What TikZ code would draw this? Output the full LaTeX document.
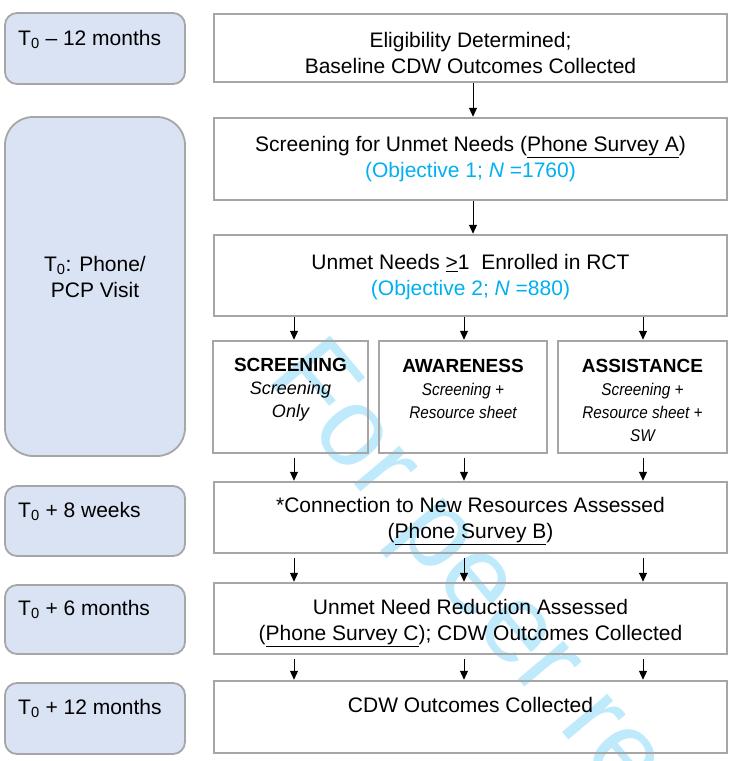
\documentclass[tikz,border=0pt]{standalone}
\usepackage{fontspec}
\setmainfont{Liberation Sans}
\newfontfamily\narrowsans[FakeStretch=0.9]{Liberation Sans}
\usetikzlibrary{arrows.meta}
\definecolor{boxgray}{RGB}{166,166,166}
\definecolor{tlfill}{RGB}{218,227,243}
\definecolor{objblue}{RGB}{0,176,240}
\definecolor{wmcol}{RGB}{190,234,251}

\begin{document}
\begin{tikzpicture}[x=1pt,y=-1pt,
  stagebox/.style={draw=boxgray, line width=2.5pt, minimum width=513pt, inner sep=0pt},
  stagetext/.style={align=center, inner sep=0pt, font=\fontsize{21}{26}\selectfont},
  armbox/.style={draw=boxgray, line width=2.5pt, inner sep=0pt, minimum height=112pt},
  armtext/.style={align=center, inner sep=0pt, font=\fontsize{17}{23}\selectfont\itshape},
  timebox/.style={draw=boxgray, line width=1.8pt, fill=tlfill, rounded corners=12pt,
    minimum width=180pt, inner sep=0pt},
  timetext/.style={anchor=west, inner sep=0pt, font=\fontsize{21}{26}\selectfont},
  flow/.style={-{Triangle[length=9pt,width=8pt]}, line width=1pt, black},
  lowflow/.style={flow, shorten <=3.5pt},
]
\useasboundingbox (0,0) rectangle (736,761);
\clip (0,0) rectangle (736,761);

% watermark, behind the flow chart
\node[rotate=-50, anchor=base west, inner sep=0pt, text=wmcol,
  font=\fontsize{112}{112}\selectfont] (wmark) at (265,378) {For peer review};

% time line on the left
\node[timebox, minimum height=71pt] (t1) at (95,48.5) {};
\node[timebox, minimum height=339pt, rounded corners=28pt] (t2) at (95,286.5) {};
\node[timebox, minimum height=70pt] (t3) at (95,521) {};
\node[timebox, minimum height=69pt] (t4) at (95,619.5) {};
\node[timebox, minimum height=71pt] (t5) at (95,718.5) {};

\node[timetext] (t1txt) at (18,39.5) {T\textsubscript{0} – 12 months};
\node[timetext, anchor=center, align=center] (t2txt) at (95,277) {T\textsubscript{0}: Phone/\\PCP Visit};
\node[timetext] (t3txt) at (18,511.5) {T\textsubscript{0} + 8 weeks};
\node[timetext] (t4txt) at (18,609.5) {T\textsubscript{0} + 6 months};
\node[timetext] (t5txt) at (18,708.5) {T\textsubscript{0} + 12 months};

% study stages
\node[stagebox, minimum height=68pt] (elig) at (470.5,48) {};
\node[stagetext] (eligtxt) at (470.5,53)
  {Eligibility Determined;\\Baseline CDW Outcomes Collected};
\node[stagebox, minimum height=82pt] (scr) at (470.5,159) {};
\node[stagetext] (scrtxt) at (470.5,159)
  {Screening for Unmet Needs (\underline{Phone Survey A})\\
   \textcolor{objblue}{(Objective 1; \textit{N} =1760)}};
\node[stagebox, minimum height=81pt] (unmet) at (470.5,275.5) {};
\node[stagetext] (unmettxt) at (470.5,277.5)
  {Unmet Needs \underline{>}1\ \ Enrolled in RCT\\
   \textcolor{objblue}{(Objective 2; \textit{N} =880)}};

% trial arms
\node[armbox, minimum width=155pt] (arm1) at (290.5,397) {};
\node[armtext] (arm1txt) at (290.5,389.5)
  {{\fontsize{19}{23}\selectfont\bfseries\upshape SCREENING}\\
   {\fontsize{18}{24}\selectfont Screening}\\{\fontsize{18}{24}\selectfont Only}};
\node[armbox, minimum width=168pt] (arm2) at (463,397) {};
\node[armtext] (arm2txt) at (463,388.5)
  {{\fontsize{19}{23}\selectfont\bfseries\upshape AWARENESS}\\
   {\narrowsans Screening +}\\{\narrowsans Resource sheet}};
\node[armbox, minimum width=169pt] (arm3) at (642.5,397) {};
\node[armtext] (arm3txt) at (642.5,400)
  {{\fontsize{19}{23}\selectfont\bfseries\upshape ASSISTANCE}\\
   {\narrowsans Screening +}\\{\narrowsans Resource sheet +}\\{\narrowsans SW}};

% follow-up stages
\node[stagebox, minimum height=71pt] (conn) at (470.5,517.5) {};
\node[stagetext] (conntxt) at (470.5,521.5)
  {*Connection to New Resources Assessed\\(\underline{Phone Survey B})};
\node[stagebox, minimum height=71pt] (red) at (470.5,618.5) {};
\node[stagetext] (redtxt) at (470.5,623)
  {Unmet Need Reduction Assessed\\(\underline{Phone Survey C}); CDW Outcomes Collected};
\node[stagebox, minimum height=72pt] (cdw) at (470.5,717) {};
\node[stagetext] (cdwtxt) at (470.5,705) {CDW Outcomes Collected};

% arrow columns
\coordinate (cx) at (473,0);
\coordinate (xa) at (294,0);
\coordinate (xb) at (464,0);
\coordinate (xc) at (643,0);

\draw[flow] (elig.south -| cx) -- (scr.north -| cx);
\draw[flow] (scr.south -| cx) -- (unmet.north -| cx);

\draw[flow] (unmet.south -| xa) -- (arm1.north -| xa);
\draw[flow] (unmet.south -| xb) -- (arm2.north -| xb);
\draw[flow] (unmet.south -| xc) -- (arm3.north -| xc);

\draw[lowflow] (arm1.south -| xa) -- (conn.north -| xa);
\draw[lowflow] (arm2.south -| xb) -- (conn.north -| xb);
\draw[lowflow] (arm3.south -| xc) -- (conn.north -| xc);

\foreach \col in {xa,xb,xc}{
  \draw[lowflow] (conn.south -| \col) -- (red.north -| \col);
  \draw[lowflow] (red.south -| \col) -- (cdw.north -| \col);
}
\end{tikzpicture}
\end{document}
